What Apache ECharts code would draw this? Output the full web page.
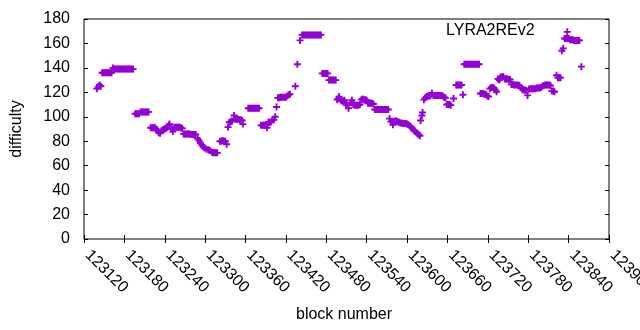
<!DOCTYPE html>
<html>
<head>
<meta charset="utf-8">
<script src="https://cdn.jsdelivr.net/npm/echarts@6/dist/echarts.min.js"></script>
<style>
  html, body { margin: 0; padding: 0; background: #fff; }
  #chart { width: 640px; height: 330px; }
</style>
</head>
<body>
<div id="chart"></div>
<script>
// block heights (one line per stretch)
const blocks = [
  123139, 123141, 123143, 123145,
  123147, 123149, 123151, 123153, 123155, 123157, 123159, 123161,
  123163, 123165, 123167, 123169, 123171, 123173, 123175, 123177, 123179, 123181, 123183, 123185, 123187, 123189, 123191, 123193,
  123196, 123198, 123200, 123202, 123204, 123206, 123208, 123210, 123212, 123214, 123216,
  123219, 123221, 123223, 123225, 123227, 123229, 123231, 123233, 123235, 123237, 123238, 123240, 123241, 123243, 123244, 123246, 123247, 123250, 123252,
  123254, 123256, 123258, 123260, 123262, 123264, 123266,
  123268, 123270, 123272, 123274, 123276, 123278, 123280, 123282, 123284, 123286,
  123289, 123291, 123293, 123295, 123297, 123299, 123302, 123305, 123307, 123310, 123312, 123314, 123316, 123318,
  123322, 123324, 123326, 123328, 123330, 123332,
  123334, 123336, 123338, 123340, 123343, 123345, 123347, 123349, 123351, 123353, 123355, 123356,
  123364, 123366, 123368, 123370, 123372, 123374, 123376, 123378, 123380,
  123383, 123385, 123387, 123389, 123391, 123392, 123394, 123396, 123398, 123400, 123402, 123404, 123406,
  123408, 123410, 123412, 123414, 123416, 123418, 123420, 123422, 123424, 123426, 123434, 123437, 123441,
  123444, 123446, 123448, 123450, 123452, 123454, 123456, 123458, 123460, 123462, 123464, 123466, 123468, 123470, 123472,
  123474, 123476, 123478, 123480, 123482,
  123484, 123486, 123488, 123490, 123492, 123494,
  123496, 123498, 123499, 123501, 123503, 123505, 123507, 123509, 123510, 123513, 123516, 123518, 123520, 123522, 123524, 123526, 123528, 123530,
  123532, 123534, 123536, 123538, 123540, 123542, 123544, 123546, 123548, 123550,
  123552, 123554, 123556, 123558, 123560, 123562, 123564, 123566, 123568, 123570, 123572,
  123574, 123576, 123578, 123579, 123580, 123582, 123584, 123586, 123588, 123590, 123592, 123594, 123596, 123598, 123600, 123602, 123604, 123606, 123608,
  123610, 123612, 123614, 123616, 123618, 123619, 123620, 123622, 123623,
  123625, 123627, 123629, 123631, 123633, 123635, 123637,
  123639, 123641, 123643, 123645, 123647, 123649, 123651, 123653, 123655, 123657,
  123659, 123661, 123663, 123665, 123669,
  123673, 123675, 123677, 123679, 123681, 123683,
  123685, 123687, 123689, 123691, 123693, 123695, 123697, 123699, 123701, 123703, 123705, 123707,
  123709, 123711, 123713, 123715, 123717, 123719, 123721,
  123723, 123725, 123727, 123729, 123731, 123733,
  123735, 123737, 123738, 123739, 123741, 123743, 123745, 123747, 123749, 123751, 123753,
  123755, 123757, 123759, 123761, 123763, 123765, 123767, 123769,
  123771, 123773, 123775, 123777, 123779,
  123781, 123783, 123785, 123787, 123789, 123791, 123793, 123795, 123797, 123799,
  123801, 123803, 123805, 123807, 123809, 123811, 123813,
  123815, 123817, 123819, 123822, 123824, 123826, 123828, 123830, 123832,
  123834, 123836, 123838, 123840, 123842, 123844, 123846, 123848, 123850, 123852, 123854, 123856, 123838, 123859
];
const difficulty = [
  123, 124.5, 126, 125,
  136, 136, 136, 136, 136, 136, 136, 136,
  140, 139, 139, 139, 139, 139, 139, 139, 139, 139, 139, 139, 139, 139, 139, 139,
  102.5, 102.5, 102.5, 102.5, 104, 104, 104, 104, 104, 104, 104,
  91, 91, 91, 91.5, 90, 88.5, 87, 86.5, 88.5, 89, 89.5, 90, 90.5, 91, 92, 93, 94, 90, 88,
  91.5, 91.5, 91.5, 91.5, 91.5, 91, 90.5,
  86, 86, 86, 86, 86, 86, 85.5, 85.5, 85.5, 85.5,
  82, 80.5, 78.5, 77, 75.5, 74.5, 73.5, 73, 72.5, 71, 70.5, 70.5, 70.5, 70.5,
  80, 80, 80.5, 80, 80, 77.5,
  91.5, 95.5, 96, 96.5, 101, 98, 98, 98, 97.5, 97.5, 97, 94,
  107, 107, 107, 107, 107, 107, 107, 107, 107,
  93, 93, 93, 93, 93, 91, 95.5, 95.5, 96, 97.5, 97.5, 100, 108,
  115.5, 115.5, 116, 116, 116, 116, 116, 117, 118, 118.5, 125, 143, 162.5,
  167, 167, 167, 167, 167, 167, 167, 167, 167, 167, 167, 167, 167, 167, 167,
  135.5, 135.5, 135.5, 135.5, 135.5,
  130, 130, 130, 130, 130, 130,
  114, 115, 116.5, 114, 113, 113, 113.5, 111, 109.5, 107, 111.5, 113.5, 110, 109.5, 109.5, 109.5, 109.5, 110,
  114, 114.5, 114, 114, 113.5, 111, 111, 111, 111, 110.5,
  106, 106, 106, 106, 106, 106, 106, 106, 106, 106, 106,
  98.5, 96, 96, 93.5, 96, 96.5, 96.5, 96, 95.5, 95, 95, 94.5, 94.5, 94.5, 94, 93.5, 92.5, 91.5, 90.5,
  89, 88, 87, 86, 85, 84.5, 97, 101, 103.5,
  114, 115.5, 116.5, 117, 117, 117.5, 119.5,
  117.5, 117.5, 117.5, 117.5, 117.5, 117.5, 117.5, 117, 116, 115.5,
  110, 110, 110, 109.5, 115,
  126, 126, 126, 126, 126, 118,
  143, 143, 143, 143, 143, 143, 143, 143, 143, 143, 143, 143,
  119, 119, 119, 118.5, 118.5, 117, 116.5,
  123, 124, 124, 123.5, 122, 120.5,
  131, 130, 131.5, 132.5, 132.5, 133, 131, 131, 131, 130.5, 130.5,
  126.5, 126.5, 126, 126, 126, 126, 125.5, 124,
  122.5, 122, 122, 121.5, 117.5,
  122.5, 123, 123, 123, 123, 123, 123.5, 123.5, 123.5, 124,
  125, 125.5, 126, 126, 126, 126, 125.5,
  121, 121, 120.5, 134, 132, 132, 132, 154, 156,
  164, 164, 164, 164, 163, 163, 163, 162.5, 162.5, 162.5, 162.5, 162.5, 169.5, 141
];

const xMin = 123120, xMax = 123900, xStep = 60;
const yMin = 0, yMax = 180, yStep = 20;
const seriesName = 'LYRA2REv2';

const font = '"Liberation Sans", Arial, sans-serif';
const purple = '#9400d3';
// gnuplot style "+" point
const plus = 'path://M2.55,0H4.45V2.55H7V4.45H4.45V7H2.55V4.45H0V2.55H2.55Z';

const points = blocks.map((b, i) => [b, difficulty[i]]);

const ticks = {
  show: true,
  inside: true,
  length: 4,
  lineStyle: { color: '#000', width: 1 }
};

const chart = echarts.init(document.getElementById('chart'));
chart.setOption({
  animation: false,
  grid: {
    left: 84, right: 31, top: 19, bottom: 91,
    show: true, borderColor: '#000', borderWidth: 1,
    outerBoundsMode: 'none'
  },
  xAxis: [{
    type: 'value', min: xMin, max: xMax, interval: xStep,
    position: 'bottom',
    axisLine: { show: false },
    axisTick: ticks,
    splitLine: { show: false },
    axisLabel: {
      rotate: -45, margin: 10, padding: [0, 0, 0, 5],
      color: '#000', fontSize: 16, fontFamily: font,
      showMinLabel: true, showMaxLabel: true,
      formatter: v => String(v)
    }
  }, {
    type: 'value', min: xMin, max: xMax, interval: xStep,
    position: 'top',
    axisLine: { show: false },
    axisTick: ticks,
    splitLine: { show: false },
    axisLabel: { show: false }
  }],
  yAxis: [{
    type: 'value', min: yMin, max: yMax, interval: yStep,
    position: 'left',
    axisLine: { show: false },
    axisTick: ticks,
    splitLine: { show: false },
    axisLabel: {
      margin: 14, color: '#000', fontSize: 16, fontFamily: font,
      showMinLabel: true, showMaxLabel: true
    }
  }, {
    type: 'value', min: yMin, max: yMax, interval: yStep,
    position: 'right',
    axisLine: { show: false },
    axisTick: ticks,
    splitLine: { show: false },
    axisLabel: { show: false }
  }],
  series: [{
    name: seriesName,
    type: 'scatter',
    data: points,
    symbol: plus,
    symbolSize: 7,
    itemStyle: { color: purple, opacity: 1 },
    xAxisIndex: 0,
    yAxisIndex: 0
  }],
  graphic: [
    {
      type: 'text', x: 17, y: 129, rotation: Math.PI / 2,
      style: { text: 'difficulty', font: '16px ' + font, fill: '#000', align: 'center', verticalAlign: 'middle' }
    },
    {
      type: 'text', x: 344, y: 315,
      style: { text: 'block number', font: '16px ' + font, fill: '#000', align: 'center', verticalAlign: 'middle' }
    },
    {
      type: 'text', x: 446, y: 31,
      style: { text: seriesName, font: '16px ' + font, fill: '#000', align: 'left', verticalAlign: 'middle' }
    }
  ]
});
</script>
</body>
</html>
